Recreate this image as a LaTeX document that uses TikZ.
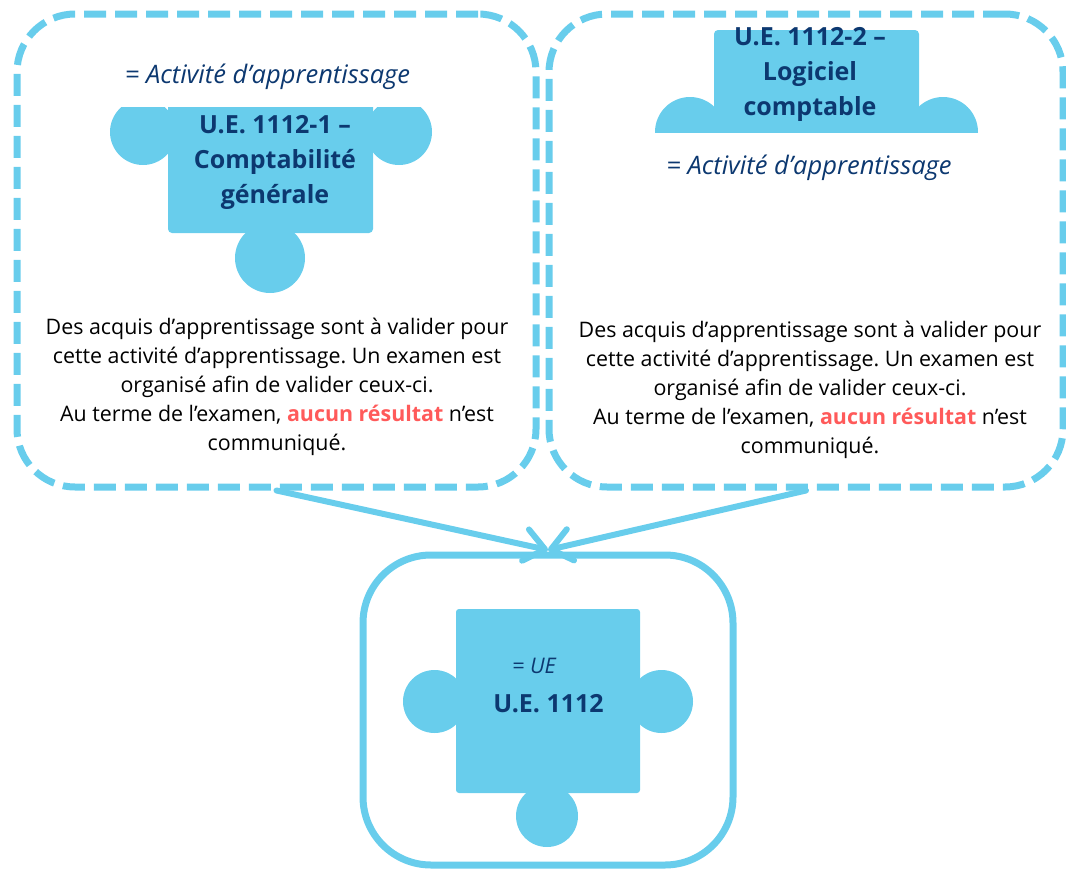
\documentclass[tikz,border=0pt]{standalone}
\usepackage{fontspec}
\setmainfont{Open Sans}
\usetikzlibrary{arrows.meta}
\definecolor{sky}{RGB}{104,205,236}
\definecolor{navy}{RGB}{12,56,112}
\definecolor{hot}{RGB}{255,90,90}
\frenchspacing
\begin{document}
\begin{tikzpicture}[x=1pt,y=-1pt,
  dashbox/.style={draw=sky, line width=7pt, dash pattern=on 22pt off 9pt, rounded corners=58pt, inner sep=0pt},
  solidbox/.style={draw=sky, line width=7pt, rounded corners=68pt, inner sep=0pt},
  title/.style={font=\fontsize{25}{35}\selectfont\bfseries, text=navy, align=center, inner sep=0pt},
  ital/.style={font=\fontsize{25.5}{30}\selectfont\itshape, text=navy, inner sep=0pt},
  smallital/.style={font=\fontsize{21.5}{26}\selectfont\itshape, text=navy, inner sep=0pt},
  body/.style={font=\fontsize{21.4}{29}\selectfont, align=center, inner sep=0pt},
  flow/.style={draw=sky, line width=6pt, line cap=round, -{Straight Barb[length=20pt,width=32pt,round]}}]
\useasboundingbox (0,0) rectangle (1066,870);

% left puzzle piece
\begin{scope}
  \clip (100,107) rectangle (440,300);
  \fill[sky, rounded corners=4pt] (168,95) -- (168,233) -- (373,233) -- (373,95) -- cycle;
  \fill[sky] (143,132) circle[radius=33pt];
  \fill[sky] (399,132) circle[radius=33pt];
  \fill[sky] (270,258) circle[radius=35pt];
\end{scope}

% right puzzle piece
\begin{scope}
  \clip (640,0) rectangle (1000,132);
  \fill[sky, rounded corners=4pt] (714,140) -- (714,30) -- (919,30) -- (919,140) -- cycle;
  \fill[sky] (690,132) circle[radius=35pt];
  \fill[sky] (943,132) circle[radius=35pt];
\end{scope}

% bottom puzzle piece
\fill[sky, rounded corners=3pt] (456,609) rectangle (640,793);
\fill[sky] (434.5,701.5) circle[radius=31.5pt];
\fill[sky] (661.5,701.5) circle[radius=31.5pt];
\fill[sky] (547,816) circle[radius=31pt];

% texts
\node[ital, anchor=base] (itL) at (267.5,83) {= Activité d’apprentissage};
\node[title] (tL) at (275,162) {U.E. 1112-1 –\\Comptabilité\\générale};
\node[body] (bL) at (277,387) {Des acquis d’apprentissage sont à valider pour\\cette activité d’apprentissage. Un examen est\\organisé afin de valider ceux-ci.\\Au terme de l’examen, \textcolor{hot}{\bfseries aucun résultat} n’est\\communiqué.};

\node[title] (tR) at (810,74) {U.E. 1112-2 –\\Logiciel\\comptable};
\node[ital, anchor=base] (itR) at (809,174) {= Activité d’apprentissage};
\node[body] (bR) at (810,390) {Des acquis d’apprentissage sont à valider pour\\cette activité d’apprentissage. Un examen est\\organisé afin de valider ceux-ci.\\Au terme de l’examen, \textcolor{hot}{\bfseries aucun résultat} n’est\\communiqué.};

\node[smallital, anchor=base] (itB) at (534,673) {= UE};
\node[title, anchor=base] (tB) at (548.5,712) {U.E. 1112};

% boxes
\node[dashbox, minimum width=519pt, minimum height=473pt] (boxL) at (276.5,250.5) {};
\node[dashbox, minimum width=514pt, minimum height=473pt] (boxR) at (806,250.5) {};
\node[solidbox, minimum width=370pt, minimum height=310pt] (boxB) at (548,710) {};

% arrows
\coordinate (tip) at (548,550);
\draw[flow] (boxL.south) -- (tip);
\draw[flow] (boxR.south) -- (tip);
\end{tikzpicture}
\end{document}
